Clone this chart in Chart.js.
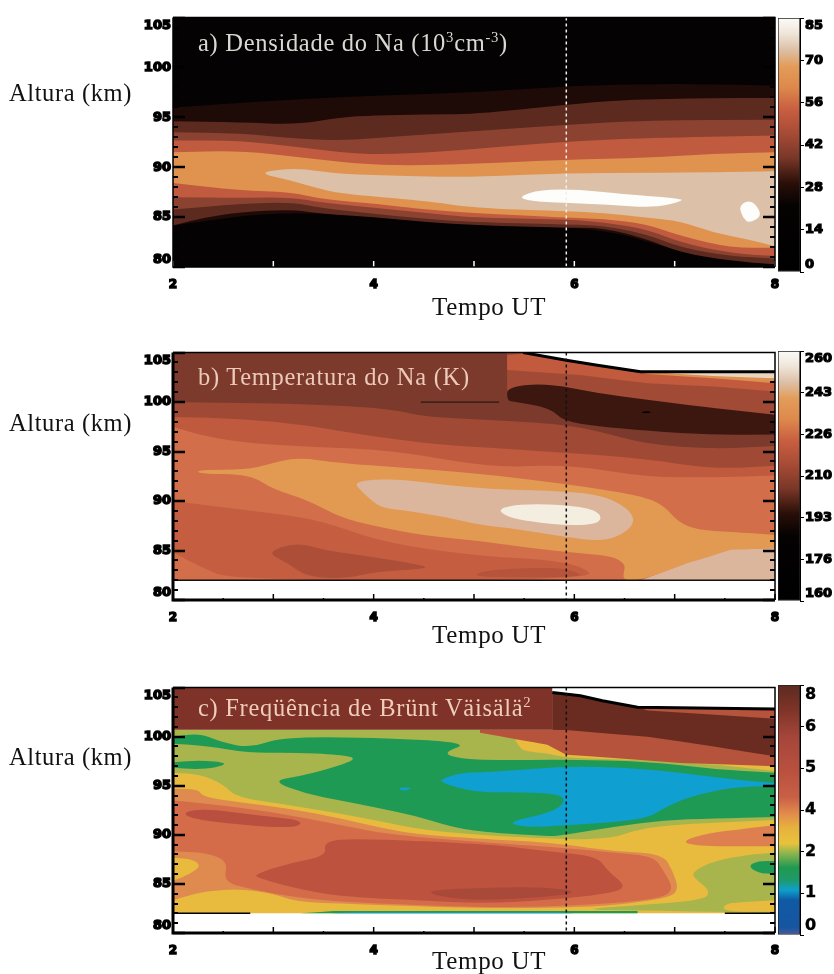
<!DOCTYPE html>
<html>
<head>
<meta charset="utf-8">
<script src="https://cdn.jsdelivr.net/npm/chart.js@4"></script>
<style>
    body { margin: 0; background: #fff; }
    canvas { position: absolute; left: 0; }
    .txt { position: absolute; font-family: "Liberation Serif", serif; white-space: nowrap; line-height: 1; }
    .txt sup { font-size: 60%; line-height: 0; }
    .side { left: 9px; font-size: 24.5px; letter-spacing: .6px; color: #111; }
    .time { left: 432px; font-size: 25px; letter-spacing: .7px; color: #111; }
    .name { left: 198px; font-size: 24.5px; letter-spacing: .7px; }
</style>
</head>
<body>
<canvas id="panel-a" width="834" height="300" style="top:0"></canvas>
<canvas id="panel-b" width="834" height="300" style="top:335px"></canvas>
<canvas id="panel-c" width="834" height="300" style="top:670px"></canvas>
<canvas id="bar-a" width="56" height="258" style="left:778px;top:16px"></canvas>
<canvas id="bar-b" width="56" height="254" style="left:778px;top:349px"></canvas>
<canvas id="bar-c" width="56" height="254" style="left:778px;top:683px"></canvas>

<div class="txt side" style="top:81px">Altura (km)</div>
<div class="txt side" style="top:411px">Altura (km)</div>
<div class="txt side" style="top:745px">Altura (km)</div>
<div class="txt time" style="top:294px">Tempo UT</div>
<div class="txt time" style="top:622px">Tempo UT</div>
<div class="txt time" style="top:948px">Tempo UT</div>
<div class="txt name" style="top:31px;color:#d9d9d4">a) Densidade do Na (10<sup>3</sup>cm<sup>-3</sup>)</div>
<div class="txt name" style="top:365px;color:#ecc9b8">b) Temperatura do Na (K)</div>
<div class="txt name" style="top:696px;color:#efcdb9">c) Freqüência de Brünt Väisälä<sup>2</sup></div>

<script>
// axes
const heightTicks = [80, 85, 90, 95, 100, 105];
const timeTicks = [2, 4, 6, 8];
const utMarker = [[5.92, 105], [5.92, 80]];

// colour bar tick labels
const naBarLabels = [0, 14, 28, 42, 56, 70, 85];
const tempBarLabels = [160, 176, 193, 210, 226, 243, 260];
const bruntBarLabels = [0, 1, 2, 4, 5, 6, 8];

// a) sodium density, contours as [hour, km]
const naFull = [[2, 80], [2, 105], [8, 105], [8, 80]];
const naBand1 = [[2, 96], [3, 96.7], [4, 97.2], [5, 97.5], [6, 98.2], [7, 98.4], [8, 98.2], [8, 80.3], [7.06, 81.43], [6.29, 83.93], [5, 84.17], [3.17, 85.77], [2, 84.17]];
const naBand2 = [[2, 94.6], [2.67, 94.5], [3.23, 94.27], [3.67, 95], [4, 95.2], [4.5, 95.27], [5, 95.33], [5.92, 96.27], [6.46, 96.77], [7.39, 96.93], [8, 96.93], [8, 80.27], [7.56, 80.6], [7.06, 81.43], [6.73, 82.77], [6.29, 83.93], [5.89, 83.93], [5.06, 84.17], [4.5, 84.5], [4, 85], [3.5, 85.33], [3.17, 85.77], [2.67, 85.5], [2.33, 85], [2, 84.17]];
const naBand3 = [[2, 93.5], [2.67, 93.4], [3.27, 92.83], [3.73, 92.67], [4.33, 93.17], [5, 93.6], [5.92, 94.27], [6.73, 94.7], [8, 94.77], [8, 80.83], [7.56, 81.1], [7.06, 81.93], [6.73, 83.27], [6.29, 84.17], [5.89, 84.27], [5, 84.5], [4.5, 84.83], [4, 85.33], [3.5, 85.9], [3.17, 86.5], [2.67, 86.33], [2, 85.77]];
const naBand4 = [[2, 92.67], [2.67, 92.67], [3.27, 92], [3.83, 91.33], [4.33, 91.33], [5, 91.83], [5.92, 92.6], [6.73, 92.93], [8, 93.17], [8, 81.1], [7.56, 81.37], [7.06, 82.43], [6.73, 83.77], [6.29, 84.5], [5.89, 84.77], [5, 84.93], [4.5, 85.43], [4, 85.93], [3.5, 86.43], [3.17, 87], [2.67, 86.93], [2, 87]];
const naBand5 = [[2, 91.5], [2.67, 91.67], [3.27, 91], [3.83, 90.33], [4.33, 90.17], [5, 90.33], [5.92, 90.77], [6.73, 90.93], [7.39, 91.37], [8, 91.5], [8, 81.93], [7.56, 81.93], [7.06, 83.1], [6.73, 84.27], [6.29, 84.83], [5.89, 84.93], [5, 85.43], [4.5, 85.77], [4, 86.37], [3.5, 86.77], [3.17, 87.5], [2.67, 87.67], [2, 88.43]];
const naBand6 = [[2.85, 89.4], [3.1, 89.83], [3.3, 89.83], [3.67, 89.33], [4.33, 89.1], [5, 89], [5.92, 89.43], [6.73, 89.43], [7.39, 89.5], [8, 89.6], [8, 82.07], [7.73, 82.77], [7.39, 83.43], [7.06, 84.6], [6.73, 84.93], [6.29, 85.43], [5.89, 85.6], [5, 85.93], [4.5, 86.67], [3.67, 87.33], [3.4, 88], [3.17, 88.67]];
const naPeak1 = [[5.44, 87.03], [5.66, 87.77], [6.06, 87.77], [6.46, 87.33], [7.06, 86.87], [7.08, 86.6], [6.79, 85.93], [6.33, 86.27], [5.89, 86.43], [5.56, 86.6]];
const naPeak2 = [[7.64, 86.1], [7.73, 86.7], [7.81, 86.27], [7.87, 85.1], [7.74, 84.37], [7.68, 84.93]];

// b) sodium temperature
const tempFull = [[2, 82], [2, 105], [8, 105], [8, 82]];
const tempT1 = [[2, 100], [3.33, 99.83], [4.17, 99.33], [4.5, 98.5], [5.2, 98.17], [5.89, 97.73], [6.23, 97.07], [6.73, 95.73], [7.39, 95.23], [8, 95.57], [8, 82], [2, 82]];
const tempT2 = [[2, 98.5], [2.67, 98.33], [3.33, 97.67], [4, 96.5], [4.67, 95.67], [5.2, 95.33], [5.92, 94.9], [6.73, 94.23], [7.39, 93.23], [8, 93.57], [8, 82], [2, 82]];
const tempT3 = [[2, 97.5], [2.33, 96.5], [2.77, 95.83], [3.33, 95.5], [4.17, 95.17], [5.2, 93.33], [5.92, 93.73], [6.73, 92.4], [7.39, 92.4], [8, 92.57], [8, 82], [2, 82]];
const tempLow1 = [[2, 90], [2.67, 89.17], [3.33, 88.33], [3.67, 87.33], [4, 86.17], [4.5, 85.17], [5.2, 84.33], [5.56, 84.23], [6.06, 83.57], [6.23, 82], [2.6, 82], [2.27, 83.33], [2, 84.83]];
const tempLow2 = [[2.93, 84.83], [3.23, 85.83], [3.53, 85], [4, 84.33], [4.5, 83.5], [4.53, 83.17], [4, 82.83], [3.73, 82.17], [3.33, 82.33], [3.13, 83.83]];
const tempLow3 = [[5.03, 82.3], [5.03, 82.77], [5.27, 83.1], [5.8, 83.3], [6, 82.9], [6.1, 82.3]];
const tempWarm = [[2.25, 93.17], [2.73, 93.17], [2.93, 93.67], [3.23, 94.43], [3.67, 93.83], [4.33, 93.33], [5, 92.83], [5.92, 91.73], [6.66, 90.57], [6.89, 89.57], [7.03, 87.9], [7.23, 87.07], [7.56, 86.9], [8, 86.57], [8, 85.23], [7.56, 85.07], [7.13, 83.73], [6.66, 82], [6.49, 82], [6.49, 82.73], [6.51, 83.57], [6.39, 84.4], [6.06, 84.73], [5.56, 85.23], [5.06, 85.97], [4.5, 86.5], [4, 87.5], [3.67, 88.33], [3.33, 90.17], [3, 91.17], [2.77, 92.67], [2.25, 92.77]];
const tempHot = [[3.83, 91.83], [3.93, 92.1], [4.23, 92.23], [4.67, 91.67], [5.2, 91.17], [5.73, 91.07], [6.23, 90.73], [6.49, 89.57], [6.61, 88.23], [6.53, 86.9], [6.29, 85.9], [5.89, 86.4], [5.39, 87.23], [5.06, 87.57], [4.67, 88.5], [4.33, 89], [4.07, 89.33], [3.93, 90.5], [3.83, 91.5]];
const tempPeak = [[5.23, 89.23], [5.49, 89.73], [5.99, 89.57], [6.26, 88.9], [6.26, 87.73], [5.96, 87.5], [5.56, 87.9], [5.33, 88.4]];
const tempCorner = [[6.66, 82], [7.13, 83.73], [7.56, 85.07], [8, 85.23], [8, 82]];
const tempUp1 = [[5.33, 105], [5.49, 105], [6.66, 103.07], [8, 103.07], [8, 98.23], [5.33, 101.23]];
const tempUp2 = [[5.33, 104.73], [5.49, 104.9], [6.06, 104], [6.66, 103.07], [8, 103.07], [8, 101.07], [7.39, 101.57], [6.73, 101.9], [6.06, 102.73], [5.33, 103.23]];
const tempUp3 = [[6.66, 103.07], [8, 103.07], [8, 101.9], [7.39, 102.4], [6.73, 102.83]];
const tempUp4 = [[6.73, 103.07], [8, 103.07], [8, 102.4], [7.39, 102.63]];
const tempCold = [[5.33, 101.57], [5.73, 101.9], [6.23, 100.9], [6.73, 100.23], [7.23, 99.57], [8, 98.73], [8, 96.73], [7.39, 96.67], [6.73, 97.07], [6.23, 97.57], [5.89, 98.07], [5.76, 99.4], [5.39, 100.07], [5.33, 100.17]];
const tempSpot = [[6.66, 98.97], [6.71, 99.1], [6.78, 99], [6.71, 98.85]];
const tempCutEdge = [[5.49, 105], [5.92, 104.23], [6.23, 103.73], [6.66, 103.07], [8, 103.07]];
const tempCut = [[5.49, 105], [5.92, 104.23], [6.23, 103.73], [6.66, 103.07], [8, 103.07], [8, 105]];
const tempThin = [[4.47, 100], [5.25, 100]];
const tempFloor = [[2, 82], [8, 82]];

// c) Brunt-Vaisala frequency
const bruntFull = [[2, 82], [2, 100.7], [8, 100.7], [8, 82]];
const bruntO1 = [[2, 94.67], [2.25, 94.67], [2.3, 93.83], [2.67, 93.33], [3.17, 92.67], [3.67, 91.67], [4.17, 90.5], [4.5, 90], [5.2, 89.5], [5.56, 89.33], [5.92, 89], [6.39, 88.33], [6.88, 88.07], [6.98, 86.33], [7.04, 84.5], [6.96, 83.67], [6.56, 83], [6.06, 82.6], [5.06, 82.5], [3.67, 83], [3.23, 83.17], [3, 84], [2.67, 84.5], [2.33, 84.27], [2.1, 83.67], [2, 83.33]];
const bruntO2 = [[2, 93.5], [2.33, 93.17], [3, 92.33], [3.67, 91], [4.17, 90], [5.2, 89.17], [5.92, 88.67], [6.39, 88.17], [6.79, 87.83], [6.89, 86.33], [6.99, 84.5], [6.89, 83.67], [6.56, 83.17], [5.89, 82.73], [5.06, 82.6], [3.67, 83.17], [3.2, 83.67], [2.83, 84.33], [2.5, 85.17], [2.55, 87.33], [2.33, 88.17], [2, 88.33]];
const bruntLeftIsle = [[2, 87.67], [2.2, 87.5], [2.28, 86.83], [2.17, 86], [2, 85.33]];
const bruntO3 = [[2.83, 86], [3.17, 87.17], [3.53, 87.83], [3.5, 89.33], [3.83, 89.67], [5.2, 89], [5.73, 88.33], [6.23, 87.83], [6.33, 86.33], [6.53, 84.67], [6.33, 84], [5.73, 83.33], [5.06, 83], [4.5, 83.33], [3.67, 83.67], [3.17, 84.67], [2.83, 85.67]];
const bruntO4 = [[2.1, 92.33], [2.33, 92.67], [2.83, 92], [3.3, 91.5], [3.23, 90.67], [2.67, 91], [2.17, 91.67]];
const bruntO5 = [[4.5, 84.33], [5.2, 84.67], [5.73, 84.67], [6.06, 84.17], [5.73, 83.67], [5.06, 83.33], [4.67, 83.67]];
const bruntRightIsle = [[7.06, 89.33], [7.33, 90.17], [7.73, 90.67], [8, 91], [8, 88.83], [7.73, 88.83], [7.23, 88.83]];
const bruntLowGreen = [[7.19, 86.33], [7.39, 87.33], [7.73, 88], [8, 88.17], [8, 82], [7.49, 82.17], [6.63, 82.27], [6.06, 82.4], [6.56, 82.8], [7.29, 83.33], [7.36, 84.33], [7.18, 85.67]];
const bruntLowPatch = [[7.49, 83], [7.73, 83.17], [8, 83.33], [8, 82.17], [7.49, 82.17]];
const bruntLowIsle = [[7.73, 86.83], [7.83, 87.33], [8, 87.33], [8, 86], [7.83, 86.1]];
const bruntUpGreen = [[2, 100.7], [8, 100.7], [8, 91.5], [6.89, 91], [6.56, 90.33], [6.39, 89.67], [5.92, 89.5], [5.06, 90], [4.5, 90.5], [4.17, 91.17], [3.67, 92.17], [3.17, 93], [2.63, 93.83], [2.5, 95.17], [2.27, 96.17], [2, 96.33]];
const bruntUpYellow = [[5.39, 100], [5.92, 99.83], [8, 98], [8, 96.5], [7.39, 97.17], [6.73, 97.6], [5.92, 97.83], [5.73, 98.33], [5.49, 98.5], [5.44, 99.17]];
const bruntGreen = [[2, 100], [2.27, 100.33], [2.47, 99.5], [2.77, 98.83], [3.07, 99.93], [4, 99.93], [4.97, 99.4], [4.68, 98.33], [4.87, 97.73], [5.2, 97.6], [5.92, 97.67], [6.73, 97.5], [7.39, 96.67], [8, 96.33], [8, 91.83], [7.39, 91.67], [6.89, 91.5], [6.39, 90.83], [5.92, 90], [5.73, 89.83], [5.06, 90.33], [4.77, 90.83], [4.4, 92], [4, 92.83], [3.67, 93.5], [3.33, 94.17], [2.98, 95.5], [3.27, 96], [3.53, 96.67], [3.85, 97.73], [3.67, 98.17], [3.17, 98.4], [2.77, 98.33], [2.33, 99.07], [2, 99.27]];
const bruntGreenIsle = [[2, 97.4], [2.27, 97.6], [2.55, 97.33], [2.43, 96.83], [2.23, 96.67], [2, 96.83]];
const bruntBlue = [[4.67, 95.67], [4.87, 96.33], [5.2, 96.4], [5.92, 97], [6.56, 96.83], [7.06, 96.33], [7.56, 95.67], [8, 95.27], [8, 95], [7.56, 94.83], [7.13, 93.83], [6.88, 92.67], [6.73, 91.67], [6.23, 91.17], [5.92, 91], [5.73, 90.83], [5.46, 90.83], [5.34, 91.33], [5.79, 92.33], [5.92, 93.5], [5.83, 94.17], [5.46, 94.33], [5.06, 94.33], [4.83, 94.83], [4.68, 95.33]];
const bruntBlueIsle = [[4.23, 94.83], [4.4, 94.83], [4.3, 94.4]];
const bruntRed = [[5.06, 100.7], [5.78, 100.7], [5.78, 105], [8, 105], [8, 97], [7.06, 97.33], [6.39, 97.83], [5.92, 98.17], [5.73, 99.17], [5.46, 99.67], [5.06, 100.4]];
const bruntDark = [[5.78, 105], [8, 105], [8, 98], [7.39, 99], [6.73, 100], [5.92, 100.67], [5.78, 100.7]];
const bruntTopStrip = [[6.63, 103], [8, 102.83], [8, 101.83], [6.73, 102.67]];
const bruntBox = [[2, 100.7], [2, 105], [5.78, 105], [5.78, 100.7]];
const bruntCut = [[5.78, 105], [5.78, 104.5], [6.06, 104.17], [6.28, 103.67], [6.63, 103], [8, 102.83], [8, 105]];
const bruntCutEdge = [[5.78, 104.5], [6.06, 104.17], [6.28, 103.67], [6.63, 103], [8, 102.83]];
const bruntFloorGreen = [[3.27, 82], [3.6, 82.25], [6.63, 82.25], [6.63, 82]];
const bruntFloorBlue = [[3.57, 82], [3.8, 82.12], [5.8, 82.12], [6, 82]];
const bruntFloorLeft = [[2, 82], [2.77, 82]];
const bruntFloorRight = [[7.5, 82], [8, 82]];

const naStops = [[0, "#000"], [.26, "#050202"], [.35, "#2a0f08"], [.45, "#7a3728"], [.55, "#a84c36"], [.64, "#c95e40"], [.73, "#dd8a4c"], [.81, "#e39c5a"], [.875, "#dcc0a6"], [.94, "#efe6da"], [1, "#fbfbf8"]];
const bruntStops = [[0, "#4f5a9c"], [.03, "#1655a0"], [.14, "#0f5aa5"], [.18, "#0ea0cc"], [.22, "#1f9a6a"], [.27, "#1f9a50"], [.327, "#8db54e"], [.367, "#e9c23c"], [.43, "#e6b13e"], [.487, "#e28a4c"], [.553, "#c85f45"], [.66, "#b9503f"], [.79, "#a5463a"], [.9, "#7f3428"], [1, "#5c2a20"]];


// fills the closed contour of a dataset from its parsed points,
// rounding the corners except where the contour runs into the plot edge
const bandFill = {
    id: "bandFill",
    beforeDatasetDraw(chart, args) {
        let ds = chart.data.datasets[args.index];
        if (!ds.band) return;
        let ctx = chart.ctx;
        let area = chart.chartArea;
        let pts = args.meta.data;
        let n = pts.length;
        let edge = p => Math.abs(p.x - area.left) < 1 || Math.abs(p.x - area.right) < 1 || Math.abs(p.y - area.top) < 1;
        ctx.save();
        ctx.beginPath();
        ctx.rect(area.left, area.top, area.width, area.height);
        ctx.clip();
        ctx.beginPath();
        ctx.moveTo((pts[n - 1].x + pts[0].x) / 2, (pts[n - 1].y + pts[0].y) / 2);
        pts.forEach((p, i) => {
            let q = pts[(i + 1) % n];
            if (edge(p) || ds.sharp) ctx.lineTo(p.x, p.y);
            else ctx.quadraticCurveTo(p.x, p.y, (p.x + q.x) / 2, (p.y + q.y) / 2);
            if (edge(p) || ds.sharp) ctx.lineTo((p.x + q.x) / 2, (p.y + q.y) / 2);
        });
        ctx.closePath();
        ctx.fillStyle = ds.band;
        ctx.fill();
        ctx.restore();
    }
};

// inward ticks and the box around the plot
const frameTicks = {
    id: "frameTicks",
    afterDatasetsDraw(chart, args, opts) {
        let ctx = chart.ctx;
        let a = chart.chartArea;
        let sx = chart.scales.x;
        let sy = chart.scales.y;
        ctx.save();
        ctx.strokeStyle = "#000";
        for (let km = 80; km <= 105; km++) {
            let y = Math.round(sy.getPixelForValue(km));
            let major = km % 5 == 0;
            let len = major ? 12 : 5;
            ctx.lineWidth = major ? 2.5 : 2;
            ctx.beginPath();
            ctx.moveTo(a.left, y);
            ctx.lineTo(a.left + len, y);
            if (km <= opts.rightTop) {
                ctx.moveTo(a.right, y);
                ctx.lineTo(a.right - len, y);
            }
            ctx.stroke();
        }
        ctx.strokeStyle = opts.tickColor;
        for (let h = 2; h <= 8; h += 0.5) {
            let x = sx.getPixelForValue(h);
            let whole = h % 1 == 0;
            if (!whole && !opts.halfTicks) continue;
            ctx.lineWidth = 1.5;
            ctx.beginPath();
            ctx.moveTo(x, a.bottom);
            ctx.lineTo(x, a.bottom - (whole ? 6 : 2));
            ctx.stroke();
        }
        ctx.strokeStyle = "#000";
        ctx.lineWidth = 1.5;
        ctx.beginPath();
        ctx.moveTo(a.left, a.top);
        ctx.lineTo(a.right, a.top);
        ctx.lineTo(a.right, a.bottom);
        ctx.stroke();
        ctx.lineWidth = opts.heavy;
        ctx.beginPath();
        ctx.moveTo(a.left, a.top);
        ctx.lineTo(a.left, a.bottom);
        ctx.lineTo(a.right, a.bottom);
        ctx.stroke();
        ctx.restore();
    }
};

function points(list) {
    return list.map(p => ({x: p[0], y: p[1]}));
}

function drawPanel(id, bands, lines, top, xHeight, tickColor, halfTicks, heavy, rightTop) {
    let datasets = [];
    lines.forEach(l => datasets.push({
        data: points(l.data), showLine: true, fill: false, pointRadius: 0,
        borderColor: l.color, borderWidth: l.width, borderDash: l.dash || []
    }));
    // first dataset is painted last, so the inner contours go in front
    bands.slice().reverse().forEach(b => datasets.push({
        data: points(b[0]), showLine: false, pointRadius: 0, band: b[1], sharp: b[2]
    }));

    new Chart(document.getElementById(id), {
        type: "scatter",
        data: {datasets: datasets},
        plugins: [bandFill, frameTicks],
        options: {
            responsive: false,
            animation: false,
            events: [],
            layout: {padding: {top: top, right: 59, left: 0, bottom: 0}},
            plugins: {
                legend: {display: false},
                tooltip: {enabled: false},
                frameTicks: {tickColor: tickColor, halfTicks: halfTicks, heavy: heavy, rightTop: rightTop}
            },
            scales: {
                x: {
                    type: "linear", min: 2, max: 8,
                    afterBuildTicks: s => { s.ticks = timeTicks.map(v => ({value: v})); },
                    afterFit: s => { s.height = xHeight; },
                    grid: {display: false, drawTicks: false},
                    border: {display: false},
                    ticks: {
                        padding: 11, maxRotation: 0, color: "#000",
                        font: {family: "DejaVu Sans", weight: "bold", size: 12},
                        textStrokeColor: "#000", textStrokeWidth: 1.5
                    }
                },
                y: {
                    type: "linear", min: 80, max: 105,
                    afterBuildTicks: s => { s.ticks = heightTicks.map(v => ({value: v})); },
                    afterFit: s => { s.width = 173; },
                    grid: {display: false, drawTicks: false},
                    border: {display: false},
                    ticks: {
                        padding: 2, color: "#000",
                        font: {family: "DejaVu Sans", weight: "bold", size: 13},
                        textStrokeColor: "#000", textStrokeWidth: 1.5,
                        callback: v => v == 105 ? ["", "105"] : v == 80 ? ["80", ""] : String(v)
                    }
                }
            }
        }
    });
}

function drawColorBar(id, labels, stops, stroke, size) {
    let last = labels.length - 1;
    new Chart(document.getElementById(id), {
        type: "bar",
        data: {
            labels: [""],
            datasets: [{
                data: [last],
                barPercentage: 1,
                categoryPercentage: 1,
                borderWidth: 1,
                borderColor: "#222",
                borderSkipped: false,
                backgroundColor: c => {
                    let a = c.chart.chartArea;
                    if (!a) return stops[0][1];
                    let g = c.chart.ctx.createLinearGradient(0, a.bottom, 0, a.top);
                    stops.forEach(s => g.addColorStop(s[0], s[1]));
                    return g;
                }
            }]
        },
        options: {
            responsive: false,
            animation: false,
            events: [],
            layout: {padding: {top: 2, bottom: 2}},
            plugins: {legend: {display: false}, tooltip: {enabled: false}},
            scales: {
                x: {display: false},
                y: {
                    position: "right", min: 0, max: last,
                    afterFit: s => { s.width = 34; s.paddingTop = 0; s.paddingBottom = 0; },
                    grid: {drawOnChartArea: false, color: "#000", tickLength: 4},
                    border: {color: "#000", width: 1},
                    ticks: {
                        stepSize: 1, padding: 1, color: "#000", autoSkip: false,
                        font: {family: "DejaVu Sans", weight: "bold", size: size},
                        textStrokeColor: "#000", textStrokeWidth: stroke,
                        callback: v => {
                            let t = String(labels[v]);
                            return v == last ? ["", t] : v == 0 ? [t, ""] : t;
                        }
                    }
                }
            }
        }
    });
}

drawPanel("panel-a", [
    [naFull, "#040202", true], [naBand1, "#1e0a06"], [naBand2, "#5d2a1f"], [naBand3, "#8c4231"],
    [naBand4, "#c05b3f"], [naBand5, "#e0934f"], [naBand6, "#dcc0a8"], [naPeak1, "#fdfdfb"], [naPeak2, "#fdfdfb"]
], [
    {data: utMarker, color: "#f2efe6", width: 1.5, dash: [3, 3]}
], 17, 33, "#fff", false, 1.5, 105);

drawPanel("panel-b", [
    [tempFull, "#7c3a2c", true], [tempT1, "#a04a36"], [tempT2, "#c05a3e"], [tempT3, "#d26e49"],
    [tempLow1, "#c55d40"], [tempLow2, "#ad4e39"], [tempLow3, "#b5533b"], [tempWarm, "#e29a52"],
    [tempHot, "#dcb69c"], [tempPeak, "#f4eee0"], [tempCorner, "#dcb69c", true], [tempUp1, "#a14b36", true],
    [tempUp2, "#c25a3e", true], [tempUp3, "#dd8f50", true], [tempUp4, "#e8d5c0", true], [tempCold, "#3c1710"],
    [tempSpot, "#000"], [tempCut, "#fff", true]
], [
    {data: utMarker, color: "#111", width: 1.5, dash: [3, 3]},
    {data: tempCutEdge, color: "#000", width: 3},
    {data: tempThin, color: "#111", width: 1},
    {data: tempFloor, color: "#111", width: 1.5}
], 16, 35, "#000", true, 3, 102);

drawPanel("panel-c", [
    [bruntFull, "#e8bb3e", true], [bruntO1, "#df8a4f"], [bruntO2, "#d46c4a"], [bruntLeftIsle, "#e8bb3e"],
    [bruntO3, "#bd533f"], [bruntO4, "#b94f3e"], [bruntO5, "#a8493a"], [bruntRightIsle, "#dd7f4e"],
    [bruntLowGreen, "#a8b54c"], [bruntLowPatch, "#e8bb3e"], [bruntLowIsle, "#1f9a55"],
    [bruntUpGreen, "#a8b54c"], [bruntUpYellow, "#e8bb3e"], [bruntGreen, "#1f9a55"], [bruntGreenIsle, "#1f9a55"],
    [bruntBlue, "#0f9fd0"], [bruntBlueIsle, "#0f9fd0"], [bruntRed, "#b5533c", true], [bruntDark, "#6a2c20", true],
    [bruntTopStrip, "#b5533c", true], [bruntBox, "#7e3228", true], [bruntCut, "#fff", true],
    [bruntFloorGreen, "#1f9a55", true], [bruntFloorBlue, "#0f9fd0", true]
], [
    {data: utMarker, color: "#111", width: 1.5, dash: [3, 3]},
    {data: bruntCutEdge, color: "#000", width: 3},
    {data: bruntFloorLeft, color: "#000", width: 1.5},
    {data: bruntFloorRight, color: "#000", width: 1.5}
], 13, 37, "#000", true, 3, 102);

drawColorBar("bar-a", naBarLabels, naStops, 1.2, 13);
drawColorBar("bar-b", tempBarLabels, naStops, 1.2, 13);
drawColorBar("bar-c", bruntBarLabels, bruntStops, 0.4, 16);
</script>
</body>
</html>
